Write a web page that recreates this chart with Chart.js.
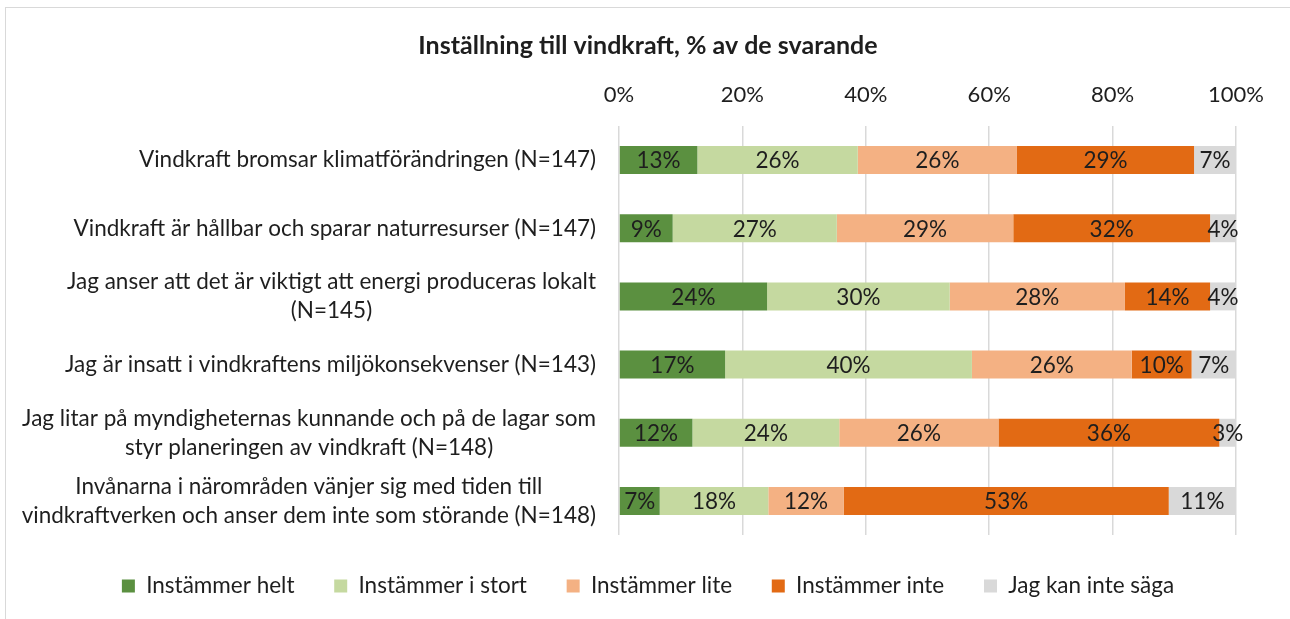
<!DOCTYPE html>
<html>
<head>
<meta charset="utf-8">
<script src="https://cdn.jsdelivr.net/npm/chart.js@4/dist/chart.umd.min.js"></script>
<style>
html, body { margin: 0; padding: 0; background: #fff; }
#wrap { position: relative; width: 1290px; height: 619px; }
</style>
</head>
<body>
<div id="wrap"><canvas id="myChart" width="1290" height="619"></canvas></div>
<script>
// Inställning till vindkraft, % av de svarande
var categories = [
    'Vindkraft bromsar klimatförändringen (N=147)',
    'Vindkraft är hållbar och sparar naturresurser (N=147)',
    ['Jag anser att det är viktigt att energi produceras lokalt', '(N=145)'],
    'Jag är insatt i vindkraftens miljökonsekvenser (N=143)',
    ['Jag litar på myndigheternas kunnande och på de lagar som', 'styr planeringen av vindkraft (N=148)'],
    ['Invånarna i närområden vänjer sig med tiden till', 'vindkraftverken och anser dem inte som störande (N=148)']
];
var seriesNames = ['Instämmer helt', 'Instämmer i stort', 'Instämmer lite', 'Instämmer inte', 'Jag kan inte säga'];
var instammerHelt = [12.7, 8.7, 24.0, 17.2, 11.9, 6.6];
var instammerIStort = [26.0, 26.6, 29.6, 40.0, 23.8, 17.6];
var instammerLite = [25.8, 28.6, 28.4, 25.9, 25.8, 12.2];
var instammerInte = [28.7, 31.9, 13.8, 9.7, 35.8, 52.7];
var kanInteSaga = [6.8, 4.2, 4.2, 7.2, 2.7, 10.9];
var xTicks = [0, 20, 40, 60, 80, 100];

var FONT = 'Lato, "Liberation Sans", sans-serif';
var FS = 22.5;
var TEXT = '#1e1e1e';
var colors = ['#5b9040', '#c5d9a0', '#f4b183', '#e26a14', '#d9d9d9'];
var allSeries = [instammerHelt, instammerIStort, instammerLite, instammerInte, kanInteSaga];

// frame round the chart
var framePlugin = {
    id: 'frame',
    beforeDraw: function(chart) {
        var c = chart.ctx;
        c.save();
        c.strokeStyle = '#d9d9d9';
        c.lineWidth = 1;
        c.strokeRect(5.5, 7.5, 1400, 700);
        c.restore();
    }
};

// percent labels in the middle of each bar piece
var barLabels = {
    id: 'barLabels',
    afterDatasetsDraw: function(chart) {
        var c = chart.ctx;
        c.save();
        c.font = FS + 'px ' + FONT;
        c.fillStyle = TEXT;
        c.textAlign = 'center';
        c.textBaseline = 'middle';
        chart.data.datasets.forEach(function(ds, di) {
            chart.getDatasetMeta(di).data.forEach(function(bar, i) {
                c.fillText(Math.round(ds.data[i]) + '%', (bar.x + bar.base) / 2, bar.y + 1);
            });
        });
        c.restore();
    }
};

// category labels: block right aligned, lines centred in the block
var catLabels = {
    id: 'catLabels',
    afterDraw: function(chart) {
        var c = chart.ctx;
        var ys = chart.scales.y;
        var right = chart.chartArea.left - 23;
        var lh = 29;
        c.save();
        c.font = FS + 'px ' + FONT;
        c.fillStyle = TEXT;
        c.textAlign = 'center';
        c.textBaseline = 'middle';
        categories.forEach(function(lab, i) {
            var lines = Array.isArray(lab) ? lab : [lab];
            var w = 0;
            lines.forEach(function(t) { w = Math.max(w, c.measureText(t).width); });
            var y0 = ys.getPixelForValue(i) - (lines.length - 1) * lh / 2;
            lines.forEach(function(t, k) {
                c.fillText(t, right - w / 2, y0 + k * lh);
            });
        });
        c.restore();
    }
};

var ctx = document.getElementById('myChart');
var myChart = new Chart(ctx, {
    type: 'bar',
    data: {
        labels: categories,
        datasets: seriesNames.map(function(name, k) {
            return {
                label: name,
                data: allSeries[k],
                backgroundColor: colors[k],
                borderWidth: 0,
                barPercentage: 0.41,
                categoryPercentage: 1
            };
        })
    },
    options: {
        indexAxis: 'y',
        responsive: false,
        animation: false,
        layout: { padding: { left: 60, right: 54, top: 0, bottom: 11.75 } },
        scales: {
            x: {
                position: 'top',
                stacked: true,
                min: 0,
                max: 100,
                afterBuildTicks: function(s) {
                    s.ticks = xTicks.map(function(v) { return { value: v }; });
                },
                afterFit: function(s) { s.height = 65; },
                ticks: {
                    callback: function(v) { return v + '%'; },
                    font: { family: FONT, size: 22 },
                    color: TEXT,
                    padding: 18,
                    maxRotation: 0
                },
                grid: { color: '#d9d9d9', lineWidth: 1.5, drawTicks: false },
                border: { display: false }
            },
            y: {
                stacked: true,
                ticks: { display: false },
                grid: { display: false },
                border: { display: false },
                afterFit: function(s) { s.width = 559; }
            }
        },
        plugins: {
            title: {
                display: true,
                text: 'Inställning till vindkraft, % av de svarande',
                font: { family: FONT, size: 25, weight: 'bold' },
                color: TEXT,
                padding: { top: 31, bottom: 0 }
            },
            legend: {
                position: 'bottom',
                labels: {
                    font: { family: FONT, size: FS },
                    color: TEXT,
                    boxWidth: 13,
                    boxHeight: 13,
                    padding: 39.75
                }
            },
            tooltip: { enabled: false }
        }
    },
    plugins: [framePlugin, barLabels, catLabels]
});
</script>
</body>
</html>
